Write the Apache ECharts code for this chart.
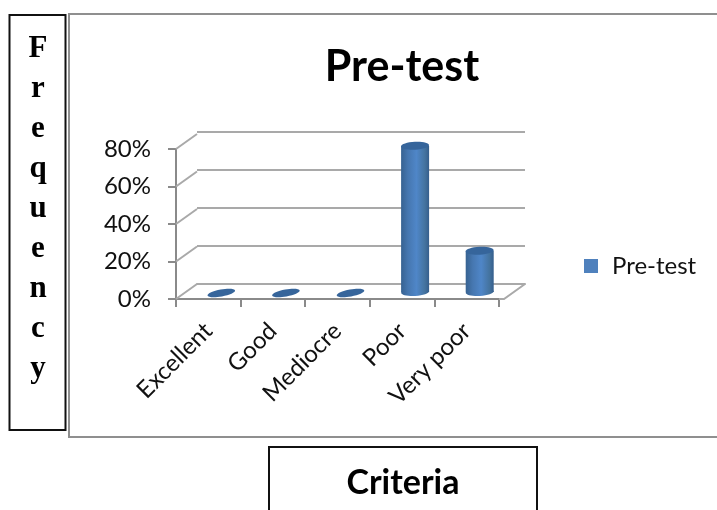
<!DOCTYPE html>
<html>
<head>
<meta charset="utf-8">
<style>html,body{margin:0;padding:0;background:#fff}#chart{width:717px;height:510px}</style>
<script src="https://cdn.jsdelivr.net/npm/echarts@6/dist/echarts.min.js"></script>
</head>
<body>
<div id="chart"></div>
<script>
// Pre-test results by criterion, drawn as a pseudo-3D column chart
const categories = ['Excellent', 'Good', 'Mediocre', 'Poor', 'Very poor'];
const preTest = [0, 0, 0, 78, 22];
const yTicks = [0, 20, 40, 60, 80];
const yLetters = ['F', 'r', 'e', 'q', 'u', 'e', 'n', 'c', 'y'];

const UI_FONT = 'Lato, "Open Sans", sans-serif';
const AXIS_GRAY = '#8a8a8a';
const WALL_GRAY = '#a9a9a9';
const DEPTH = { x: 21, y: -15 };   // offset from the front plane to the back wall
const COL = { dx: 13, dy: -7, rx: 14, ry: 4 };

const sideFill = new echarts.graphic.LinearGradient(0, 0, 1, 0, [
  { offset: 0, color: '#376291' },
  { offset: 0.25, color: '#4677b0' },
  { offset: 0.55, color: '#4f86c8' },
  { offset: 0.85, color: '#44739f' },
  { offset: 1, color: '#355e8c' }
]);

// One cylinder per category; a zero value leaves just a tilted flat disc
function renderColumn(params, api) {
  const top = api.coord([api.value(0), api.value(1)]);
  const base = api.coord([api.value(0), 0]);
  const cx = base[0] + COL.dx;
  const by = base[1] + COL.dy;
  const ty = top[1] + COL.dy;
  const tall = by - ty > 1;
  const disc = (y, fill, ry, rotation) => ({
    type: 'ellipse',
    x: cx, y: y, rotation: rotation,
    shape: { cx: 0, cy: 0, rx: COL.rx, ry: ry },
    style: { fill: fill }
  });
  const children = [];
  if (tall) {
    children.push(disc(by, sideFill, COL.ry, 0.05));
    children.push({
      type: 'rect',
      shape: { x: cx - COL.rx, y: ty, width: COL.rx * 2, height: by - ty },
      style: { fill: sideFill }
    });
    children.push(disc(ty, '#36659b', COL.ry, 0.05));
  } else {
    children.push(disc(ty + 1, '#36659b', 3.5, 0.18));
  }
  return { type: 'group', children: children };
}

// Oblique strokes joining the front axis ticks to the back wall, plus the floor's right edge
function renderDepth(params, api) {
  const sys = params.coordSys;
  const y = api.coord([0, api.value(0)])[1];
  const line = (pts, color) => ({
    type: 'polyline',
    shape: { points: pts },
    style: { stroke: color, lineWidth: 2, fill: null }
  });
  const children = [line([[sys.x, y], [sys.x + DEPTH.x, y + DEPTH.y]], WALL_GRAY)];
  if (api.value(0) === 0) {
    const right = sys.x + sys.width;
    children.push(line([
      [right, y], [right + 5, y], [right + 5 + DEPTH.x, y + DEPTH.y]
    ], WALL_GRAY));
  }
  return { type: 'group', children: children };
}

const chart = echarts.init(document.getElementById('chart'), null, { renderer: 'canvas' });
chart.setOption({
  backgroundColor: '#fff',
  animation: false,
  title: {
    text: 'Pre-test',
    left: 397, top: 41, textAlign: 'center',
    textStyle: { fontFamily: UI_FONT, fontSize: 43, fontWeight: 'bold', color: '#000' }
  },
  legend: {
    data: ['Pre-test'],
    left: 584, top: 254, padding: 0,
    icon: 'rect', itemWidth: 14, itemHeight: 14, itemGap: 0,
    textStyle: { fontFamily: UI_FONT, fontSize: 24, color: '#111', padding: [0, 0, 0, 9] }
  },
  grid: [
    { left: 176, top: 149, width: 323, height: 150 },
    { left: 197, top: 132, width: 328, height: 152 }
  ],
  xAxis: [
    {
      type: 'category', gridIndex: 0, data: categories,
      axisLine: { lineStyle: { color: AXIS_GRAY, width: 2 } },
      axisTick: { show: true, length: 8, alignWithLabel: false, lineStyle: { color: AXIS_GRAY, width: 2 } },
      axisLabel: { interval: 0, rotate: 45, margin: 28, fontFamily: UI_FONT, fontSize: 24, color: '#111' }
    },
    {
      type: 'category', gridIndex: 1, data: categories,
      axisLine: { show: true, lineStyle: { color: WALL_GRAY, width: 2 } },
      axisTick: { show: false }, axisLabel: { show: false }
    }
  ],
  yAxis: [
    {
      type: 'value', gridIndex: 0,
      min: yTicks[0], max: yTicks[yTicks.length - 1], interval: 20,
      axisLine: { show: true, lineStyle: { color: AXIS_GRAY, width: 2 } },
      axisTick: { show: true, length: 8, lineStyle: { color: AXIS_GRAY, width: 2 } },
      splitLine: { show: false },
      axisLabel: { margin: 25, fontFamily: UI_FONT, fontSize: 24, color: '#111', formatter: '{value}%' }
    },
    {
      type: 'value', gridIndex: 1,
      min: yTicks[0], max: yTicks[yTicks.length - 1], interval: 20,
      axisLine: { show: false }, axisTick: { show: false }, axisLabel: { show: false },
      splitLine: { show: true, lineStyle: { color: WALL_GRAY, width: 2 } }
    }
  ],
  series: [
    {
      name: 'depth', type: 'custom', coordinateSystem: 'cartesian2d',
      xAxisIndex: 0, yAxisIndex: 0, silent: true, z: 1,
      encode: { x: -1, y: 0 },
      renderItem: renderDepth,
      data: yTicks.map(v => [v])
    },
    {
      name: 'Pre-test', type: 'custom', coordinateSystem: 'cartesian2d',
      xAxisIndex: 0, yAxisIndex: 0, z: 5,
      itemStyle: { color: '#4f81bd' },
      encode: { x: 0, y: 1 },
      renderItem: renderColumn,
      data: categories.map((c, i) => [i, preTest[i]])
    }
  ],
  graphic: [
    // Chart frame, open at the right edge
    {
      type: 'polyline', z: 0,
      shape: { points: [[717, 14], [69, 14], [69, 437], [717, 437]] },
      style: { stroke: '#8f8f8f', lineWidth: 2, fill: null }
    },
    // Frequency box
    {
      type: 'rect', z: 0,
      shape: { x: 9.5, y: 15, width: 56, height: 415 },
      style: { stroke: '#111', lineWidth: 2, fill: '#fff' }
    },
    {
      type: 'text', z: 1, x: 38, y: 29,
      style: {
        text: yLetters.join('\n'),
        fontFamily: '"Liberation Serif", serif', fontSize: 31, fontWeight: 'bold',
        lineHeight: 40, fill: '#000', align: 'center', verticalAlign: 'top'
      }
    },
    // Criteria box
    {
      type: 'rect', z: 0,
      shape: { x: 269, y: 447, width: 268, height: 70 },
      style: { stroke: '#111', lineWidth: 2, fill: '#fff' }
    },
    {
      type: 'text', z: 1, x: 403, y: 483,
      style: {
        text: 'Criteria',
        fontFamily: UI_FONT, fontSize: 34, fontWeight: 'bold',
        fill: '#000', align: 'center', verticalAlign: 'middle'
      }
    }
  ]
});
</script>
</body>
</html>
